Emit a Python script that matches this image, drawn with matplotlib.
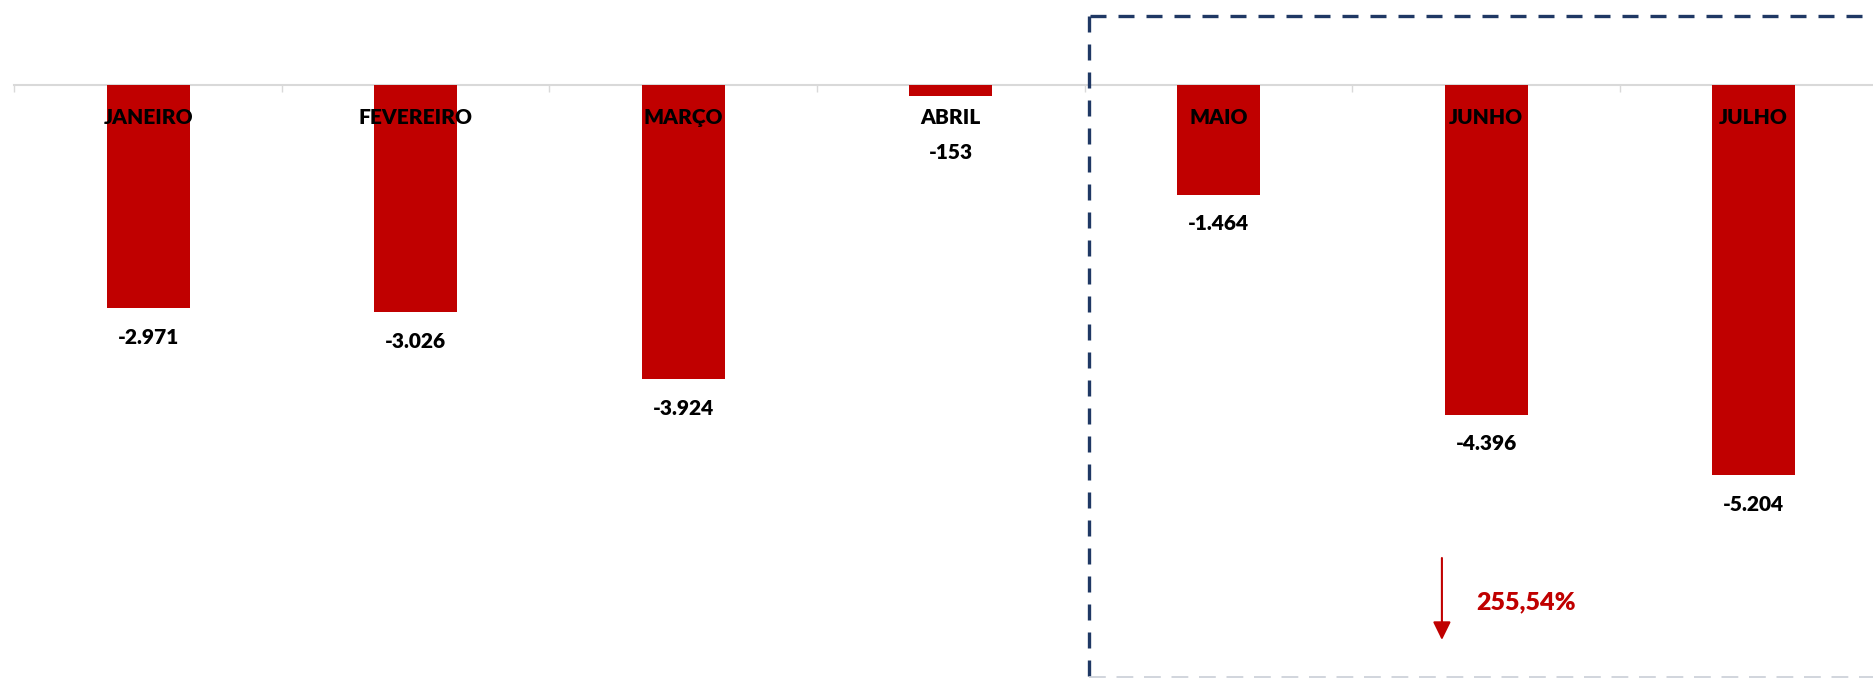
import matplotlib.pyplot as plt
from matplotlib.lines import Line2D

plt.rcParams['font.family'] = ['Lato', 'DejaVu Sans']

# data
meses = ['JANEIRO', 'FEVEREIRO', 'MARÇO', 'ABRIL', 'MAIO', 'JUNHO', 'JULHO']
valores = [-2971, -3026, -3924, -153, -1464, -4396, -5204]
rotulos = ['-2.971', '-3.026', '-3.924', '-153', '-1.464', '-4.396', '-5.204']
variacao = '255,54%'

vermelho = '#C00000'
cinza = '#D9D9D9'
azul = '#1F3864'

W, H = 1873, 678
fig = plt.figure(figsize=(W / 100, H / 100), dpi=100)
left = 14.3 / W
ax = fig.add_axes([left, 0, 1 - left, 1])

x = list(range(len(meses)))
ax.bar(x, valores, width=0.31, color=vermelho, zorder=2)

# only the category axis line, light grey, with ticks between categories
for s in ['top', 'left', 'right']:
    ax.spines[s].set_visible(False)
ax.spines['bottom'].set_position(('data', 0))
ax.spines['bottom'].set_color(cinza)
ax.spines['bottom'].set_linewidth(1.5)
ax.spines['bottom'].set_zorder(1)
ax.set_yticks([])
ax.set_xticks([])
ax.set_xticks([i - 0.5 for i in range(len(meses) + 1)], minor=True)
ax.tick_params(axis='x', which='minor', direction='out', length=5,
               width=1, color=cinza, labelbottom=False)

# limits after the ticks, so the ticks do not widen the view
ax.set_xlim(-0.5, 6.446)
ax.set_ylim(-7907, 1133)

# month names and value labels
meia_cap = 103
for i, (m, v, r) in enumerate(zip(meses, valores, rotulos)):
    ax.text(i, -413 - meia_cap, m, ha='center', va='baseline',
            fontsize=15, fontweight='heavy', color='black', zorder=3)
    yv = min(v - 373, -880)
    ax.text(i, yv - meia_cap, r, ha='center', va='baseline',
            fontsize=15, fontweight='heavy', color='black', zorder=3)

# arrow + percentage under JUNHO
xa = 5 - 0.165
ax.annotate('', xy=(xa, -7400), xytext=(xa, -6307),
            arrowprops=dict(arrowstyle='-|>,head_length=0.55,head_width=0.27',
                            mutation_scale=20, color=vermelho, lw=1.5,
                            shrinkA=0, shrinkB=0))
ax.text(xa + 0.127, -6987, variacao, ha='left', va='baseline',
        fontsize=18, fontweight='heavy', color=vermelho)

# dashed highlight box (cut at right and bottom)
yt = 1 - 15.5 / H
xl = 1088.5 / W
fig.add_artist(Line2D([xl, xl], [yt, 0], transform=fig.transFigure,
                      color=azul, lw=2.4, linestyle=(0, (4.8, 3.6))))
fig.add_artist(Line2D([xl + 1.5 / W, 1], [yt, yt], transform=fig.transFigure,
                      color=azul, lw=2.4, linestyle=(0, (4.8, 3.6))))
fig.add_artist(Line2D([xl, 1], [1.5 / H, 1.5 / H], transform=fig.transFigure,
                      color='#C5CAD3', lw=1.1, linestyle=(0, (11, 7))))

fig.savefig('out.png', dpi=100)
